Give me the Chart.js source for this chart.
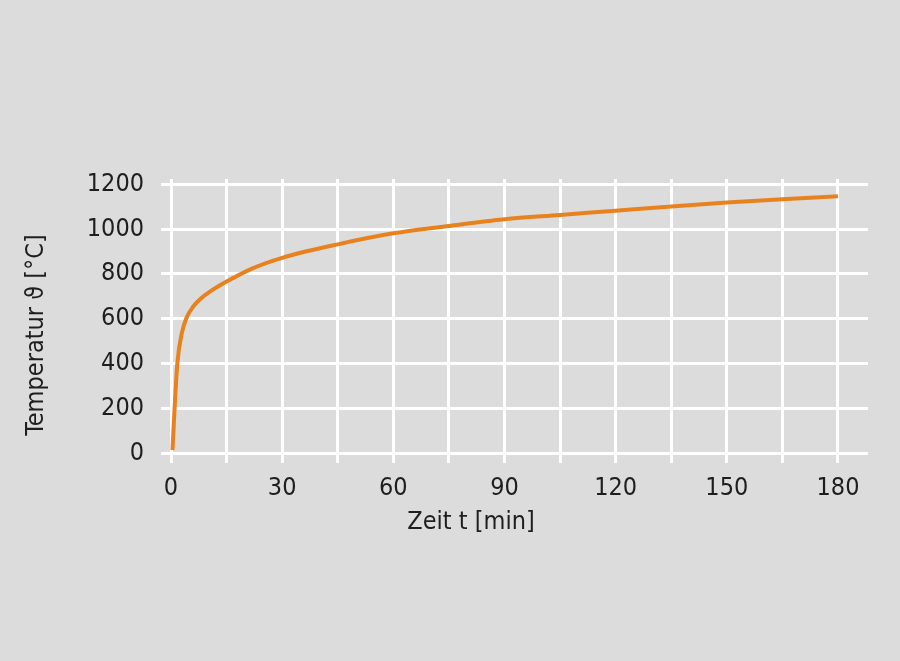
<!DOCTYPE html>
<html>
<head>
<meta charset="utf-8">
<script src="https://cdn.jsdelivr.net/npm/chart.js@4"></script>
<style>
  html, body { margin: 0; padding: 0; background: #dcdcdc; }
  #wrap { width: 900px; height: 661px; }
</style>
</head>
<body>
<div id="wrap"><canvas id="fire"></canvas></div>
<script>
// time in minutes, temperature in °C
const timeMin = [0.4, 0.9, 1.7, 2.9, 4.2, 6, 8, 10.5, 15, 22, 30, 45, 60, 75, 90, 105, 120, 135, 150, 165, 180];
const tempC = [15, 180, 400, 535, 605, 655, 690, 721, 766, 825, 872, 932, 981, 1014, 1044, 1063, 1082, 1101, 1118, 1133, 1146];

const xTicks = [0, 15, 30, 45, 60, 75, 90, 105, 120, 135, 150, 165, 180];
const yTicks = [0, 200, 400, 600, 800, 1000, 1200];

const xTitle = 'Zeit t [min]';
const yTitle = 'Temperatur ϑ [°C]';

const font = '"Liberation Sans Narrow", "DejaVu Sans Condensed", "Arial Narrow", sans-serif';
const textColor = '#1e1e1e';

// axis titles sit a bit off-centre in the original, so draw them by hand
const titles = {
  id: 'titles',
  afterDraw(chart) {
    const ctx = chart.ctx;
    ctx.save();
    ctx.fillStyle = textColor;
    ctx.font = '25px ' + font;
    ctx.textAlign = 'center';
    ctx.textBaseline = 'alphabetic';
    ctx.fillText(xTitle, 471, 529);
    ctx.translate(43, 335);
    ctx.rotate(-Math.PI / 2);
    ctx.fillText(yTitle, 0, 0);
    ctx.restore();
  }
};

new Chart(document.getElementById('fire'), {
  type: 'line',
  data: {
    datasets: [{
      data: timeMin.map((t, i) => ({ x: t, y: tempC[i] })),
      borderColor: '#e8821e',
      borderWidth: 4,
      pointRadius: 0,
      cubicInterpolationMode: 'monotone',
      fill: false
    }]
  },
  options: {
    responsive: true,
    maintainAspectRatio: false,
    animation: false,
    layout: { padding: { top: 179, right: 32, left: 0, bottom: 0 } },
    plugins: { legend: { display: false }, tooltip: { enabled: false } },
    scales: {
      x: {
        type: 'linear',
        min: -2.7,
        max: 188.1,
        afterBuildTicks: s => { s.ticks = xTicks.map(v => ({ value: v })); },
        afterFit: s => { s.height = 198; },
        grid: { color: '#ffffff', lineWidth: 3, drawTicks: false },
        border: { display: false },
        ticks: {
          padding: 10,
          color: textColor,
          font: { family: font, size: 25 },
          maxRotation: 0,
          autoSkip: false,
          callback: v => (v % 30 === 0 ? String(v) : '')
        }
      },
      y: {
        min: -42,
        max: 1223,
        afterBuildTicks: s => { s.ticks = yTicks.map(v => ({ value: v })); },
        afterFit: s => { s.width = 161; },
        grid: { color: '#ffffff', lineWidth: 3, drawTicks: false },
        border: { display: false },
        ticks: {
          padding: 17,
          color: textColor,
          font: { family: font, size: 25 },
          callback: v => String(v)
        }
      }
    }
  },
  plugins: [titles]
});
</script>
</body>
</html>
